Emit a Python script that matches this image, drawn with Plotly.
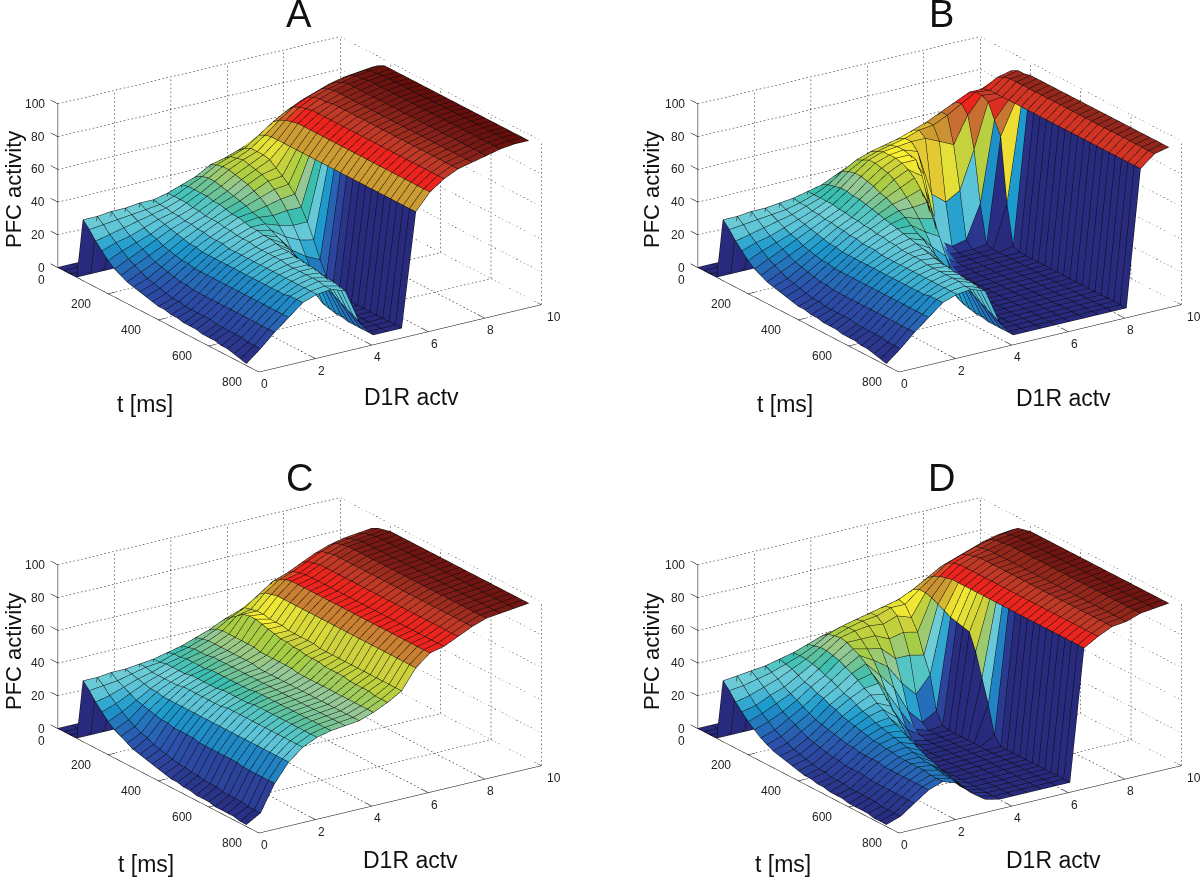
import numpy as np
import plotly.graph_objects as go

D_VALUES = [0, 0.5, 1, 1.5, 2, 2.5, 3, 3.5, 4, 4.5, 5, 5.5, 6, 6.5, 7, 7.5, 8, 8.5, 9, 9.5, 10]
T_VALUES = [0, 25, 50, 75, 100, 125, 150, 175, 200, 225, 250, 275, 300, 325, 350, 375, 400, 425, 450, 475, 500, 525, 550, 575, 600, 625, 650, 675, 700, 725, 750]
T_BEFORE_STIM = [0, 0, 0, 0]
T_TICKS = [0, 200, 400, 600, 800]
D_TICKS = [0, 2, 4, 6, 8, 10]
Z_TICKS = [0, 20, 40, 60, 80, 100]

# activity per D1R row, for t = 100 ... 750 ms
PANEL_A = [
 [37,33,28,24,20,17,15,13,12,11,10,9,8,8,7,7,6,6,6,5,5,5,4,4,3,2,1],
 [37,34,30,27,24,21,19,17,15,14,13,12,11,11,10,10,10,10,10,9,9,9,9,9,8,8,8],
 [38,35,32,29,27,25,23,21,20,19,18,17,17,16,16,16,16,16,16,16,16,16,16,16,16,16,16],
 [38,36,34,32,30,29,27,26,25,24,24,23,23,23,23,23,23,23,23,23,23,23,23,23,23,23,23],
 [39,37,36,35,34,33,32,31,30,30,29,29,29,29,29,29,29,29,29,29,29,29,29,29,30,30,30],
 [39,38,38,37,37,36,36,35,35,34,34,34,33,33,33,33,33,33,33,33,33,33,33,33,33,33,33],
 [41,41,41,41,40,40,39,39,39,38,38,37,37,37,36,36,36,36,36,35,35,35,35,35,35,34,34],
 [44,45,45,45,45,44,44,43,42,42,41,40,40,39,39,38,37,37,36,36,35,35,34,33,33,32,31],
 [47,49,50,50,49,48,47,46,45,43,42,40,38,36,34,32,30,28,26,24,22,20,18,16,14,12,10],
 [52,54,55,55,54,53,52,50,48,45,41,37,32,26,20,14,9,6,3,2,1,1,0,0,0,0,0],
 [54,57,58,59,58,57,56,54,51,47,42,35,28,20,12,6,3,1,0,0,0,0,0,0,0,0,0],
 [57,60,62,62,62,61,58,55,52,48,42,35,26,16,8,3,1,0,0,0,0,0,0,0,0,0,0],
 [60,66,68,69,69,69,69,69,69,69,69,69,69,69,69,69,69,69,69,69,69,69,69,69,69,69,69],
 [65,72,75,77,78,79,79,79,79,79,79,79,79,79,79,79,79,79,79,79,79,79,79,79,79,79,79],
 [70,77,81,83,84,85,85,85,85,85,85,85,85,85,85,85,85,85,85,85,85,85,85,85,85,85,85],
 [74,81,85,87,88,88,89,89,89,89,89,89,89,89,89,89,89,89,89,89,89,89,89,89,89,89,89],
 [77,84,88,90,91,91,91,91,91,91,91,91,91,91,91,91,91,91,91,91,91,91,91,91,91,91,91],
 [80,87,90,92,93,93,93,93,93,93,93,93,93,93,93,93,93,93,93,93,93,93,93,93,93,93,93],
 [83,89,92,94,94,95,95,95,95,95,95,95,95,95,95,95,95,95,95,95,95,95,95,95,95,95,95],
 [85,90,93,95,95,96,96,96,96,96,96,96,96,96,96,96,96,96,96,96,96,96,96,96,96,96,96],
 [86,91,94,96,96,96,96,96,96,96,96,96,96,96,96,96,96,96,96,96,96,96,96,96,96,96,96],
]
PANEL_B = [
 [37,33,28,24,20,17,15,13,12,11,10,9,8,8,7,7,6,6,6,5,5,5,4,4,3,2,1],
 [37,34,30,27,24,21,19,17,15,14,13,12,11,11,10,10,10,10,10,9,9,9,9,9,8,8,8],
 [38,35,32,29,27,25,23,21,20,19,18,17,17,16,16,16,16,16,16,16,16,16,16,16,16,16,16],
 [38,36,34,32,30,29,27,26,25,24,24,23,23,23,23,23,23,23,23,23,23,23,23,23,23,23,23],
 [39,37,36,35,34,33,32,31,30,30,29,29,29,29,29,29,29,29,29,29,29,29,29,29,30,30,30],
 [40,39,39,38,38,37,37,36,36,35,35,34,34,34,33,33,33,33,33,33,33,33,33,33,33,33,33],
 [42,42,42,42,42,41,41,40,40,39,39,38,38,37,37,36,36,36,36,35,35,35,35,35,35,34,34],
 [44,46,47,48,48,47,47,46,45,44,43,42,41,40,39,38,37,36,35,34,34,33,33,32,32,31,31],
 [48,52,54,55,55,54,53,51,50,48,46,44,41,38,36,33,30,28,26,24,22,20,18,16,14,12,10],
 [52,57,59,61,61,60,59,57,54,50,46,41,35,28,21,14,9,5,3,2,1,1,0,0,0,0,0],
 [55,60,62,64,64,64,63,61,58,53,47,39,30,20,11,5,2,1,0,0,0,0,0,0,0,0,0],
 [57,62,64,65,65,64,63,55,40,25,12,4,1,0,0,0,0,0,0,0,0,0,0,0,0,0,0],
 [59,64,66,66,62,50,34,16,6,1,0,0,0,0,0,0,0,0,0,0,0,0,0,0,0,0,0],
 [61,67,69,66,34,8,1,0,0,0,0,0,0,0,0,0,0,0,0,0,0,0,0,0,0,0,0],
 [64,70,70,62,27,2,0,0,0,0,0,0,0,0,0,0,0,0,0,0,0,0,0,0,0,0,0],
 [68,74,74,58,32,4,0,0,0,0,0,0,0,0,0,0,0,0,0,0,0,0,0,0,0,0,0],
 [72,78,79,74,55,24,1,0,0,0,0,0,0,0,0,0,0,0,0,0,0,0,0,0,0,0,0],
 [75,82,84,84,82,73,65,26,2,0,0,0,0,0,0,0,0,0,0,0,0,0,0,0,0,0,0],
 [78,82,83,83,83,83,83,83,83,83,83,83,83,83,83,83,83,83,83,83,83,83,83,83,83,83,83],
 [82,87,89,90,90,90,90,90,90,90,90,90,90,90,90,90,90,90,90,90,90,90,90,90,90,90,90],
 [84,89,91,91,92,92,92,92,92,92,92,92,92,92,92,92,92,92,92,92,92,92,92,92,92,92,92],
]
PANEL_C = [
 [37,33,28,24,20,17,15,13,11,10,9,8,7,6,5,5,4,4,3,3,3,2,2,2,2,1,1],
 [37,34,30,27,24,21,19,17,16,14,13,12,11,10,10,9,9,8,8,8,7,7,7,7,6,6,6],
 [38,35,33,31,29,28,27,26,25,25,24,24,24,24,23,23,23,23,23,23,23,22,22,22,22,22,22],
 [38,37,36,35,34,34,33,33,33,33,33,33,33,33,33,33,33,33,33,33,33,33,33,33,33,33,33],
 [39,39,38,38,38,38,38,39,39,39,39,39,39,39,40,40,40,40,40,40,40,40,40,40,40,40,40],
 [40,40,41,41,41,41,42,42,42,42,42,43,43,43,43,43,44,44,44,44,44,44,44,44,44,44,44],
 [42,43,43,44,44,44,44,45,45,45,45,45,45,45,46,46,46,46,46,46,46,46,46,46,46,46,46],
 [44,45,46,46,46,47,47,47,47,47,47,47,47,47,47,47,47,47,47,47,47,47,47,47,47,47,47],
 [47,48,49,49,49,49,49,49,49,49,48,48,48,48,48,48,48,48,48,48,48,48,48,48,48,48,48],
 [50,52,53,53,53,53,53,53,52,52,52,52,52,52,51,51,51,51,51,51,51,51,51,51,51,51,51],
 [54,57,60,63,64,64,63,62,61,60,60,59,59,58,58,58,57,57,57,57,56,56,56,56,55,55,55],
 [57,61,62,63,63,62,62,62,61,61,61,61,61,60,60,60,60,60,60,60,60,60,60,60,60,60,60],
 [60,67,70,71,72,72,72,72,72,72,72,72,72,72,72,72,72,72,72,72,72,72,72,72,72,72,72],
 [65,73,76,78,79,79,79,79,79,79,79,79,79,79,79,79,79,79,79,79,79,79,79,79,79,79,79],
 [70,76,79,80,81,81,81,81,81,81,81,81,81,81,81,81,81,81,81,81,81,81,81,81,81,81,81],
 [74,80,83,84,85,85,85,85,85,85,85,85,85,85,85,85,85,85,85,85,85,85,85,85,85,85,85],
 [77,84,87,88,89,89,89,89,89,89,89,89,89,89,89,89,89,89,89,89,89,89,89,89,89,89,89],
 [80,87,90,91,92,92,92,92,92,92,92,92,92,92,92,92,92,92,92,92,92,92,92,92,92,92,92],
 [83,89,91,92,93,93,93,93,93,93,93,93,93,93,93,93,93,93,93,93,93,93,93,93,93,93,93],
 [85,90,92,93,94,94,94,94,94,94,94,94,94,94,94,94,94,94,94,94,94,94,94,94,94,94,94],
 [86,91,93,94,95,95,95,95,95,95,95,95,95,95,95,95,95,95,95,95,95,95,95,95,95,95,95],
]
PANEL_D = [
 [37,33,28,24,20,17,14,12,10,9,8,7,6,5,5,4,4,3,3,3,2,2,2,2,1,1,1],
 [38,34,30,26,23,20,17,15,13,11,10,9,8,7,7,6,6,6,5,5,5,5,5,4,4,4,4],
 [39,36,33,30,27,24,22,20,18,16,15,14,13,12,12,11,11,11,11,10,10,10,10,10,10,10,10],
 [40,38,36,33,31,29,27,25,23,22,21,20,19,18,18,17,17,17,17,16,16,16,16,16,16,16,16],
 [42,41,40,38,36,35,33,32,30,29,27,26,25,24,23,22,22,21,21,20,20,20,20,20,19,19,19],
 [44,44,44,43,42,40,39,37,35,34,32,30,29,27,26,25,24,23,22,21,20,19,19,18,17,17,16],
 [47,48,49,49,48,47,45,43,41,38,36,33,31,28,26,24,22,20,18,16,15,13,12,11,10,9,8],
 [50,53,54,55,54,52,50,47,43,39,34,29,24,19,15,11,8,6,5,4,3,3,2,2,2,2,2],
 [52,56,57,57,54,50,45,38,30,21,12,6,2,1,0,0,0,0,0,0,0,0,0,0,0,0,0],
 [54,58,59,58,54,48,39,28,16,7,2,1,0,0,0,0,0,0,0,0,0,0,0,0,0,0,0],
 [55,60,60,57,50,40,27,12,3,1,0,0,0,0,0,0,0,0,0,0,0,0,0,0,0,0,0],
 [57,62,63,60,52,40,18,3,0,0,0,0,0,0,0,0,0,0,0,0,0,0,0,0,0,0,0],
 [60,64,63,57,50,38,28,8,1,0,0,0,0,0,0,0,0,0,0,0,0,0,0,0,0,0,0],
 [62,68,70,70,69,67,65,63,62,61,60,50,36,22,5,0,0,0,0,0,0,0,0,0,0,0,0],
 [66,73,76,78,79,80,80,80,80,80,80,80,80,80,80,80,80,80,80,80,80,80,80,80,80,80,80],
 [70,78,82,84,85,85,85,85,85,85,85,85,85,85,85,85,85,85,85,85,85,85,85,85,85,85,85],
 [74,81,85,87,88,89,89,89,89,89,89,89,89,89,89,89,89,89,89,89,89,89,89,89,89,89,89],
 [77,84,88,89,90,90,90,90,90,90,90,90,90,90,90,90,90,90,90,90,90,90,90,90,90,90,90],
 [80,87,90,92,92,93,93,93,93,93,93,93,93,93,93,93,93,93,93,93,93,93,93,93,93,93,93],
 [83,89,92,93,94,94,94,94,94,94,94,94,94,94,94,94,94,94,94,94,94,94,94,94,94,94,94],
 [85,90,93,94,95,95,95,95,95,95,95,95,95,95,95,95,95,95,95,95,95,95,95,95,95,95,95],
]

# colour map: value -> rgb
CMAP_Z = [0, 6, 12, 20, 26, 32, 38, 42, 45, 48, 52, 56, 60, 64, 68, 74, 78, 81, 84, 88, 92, 96, 100]
CMAP_R = [40, 44, 45, 35, 30, 90, 110, 60, 110, 150, 165, 190, 205, 250, 205, 200, 240, 232, 200, 170, 125, 100, 85]
CMAP_G = [42, 62, 80, 120, 155, 195, 205, 190, 195, 200, 205, 208, 210, 240, 165, 110, 35, 38, 60, 50, 28, 15, 10]
CMAP_B = [125, 150, 170, 190, 205, 215, 215, 175, 150, 150, 70, 62, 60, 50, 50, 50, 30, 30, 40, 35, 22, 12, 10]

PANEL_NAMES = ["A", "B", "C", "D"]
PANELS = [PANEL_A, PANEL_B, PANEL_C, PANEL_D]
SCENE_BOX = [(33, 553, 0, 406), (673, 1193, 0, 406), (33, 553, 461, 867), (673, 1193, 461, 867)]
TITLE_XY = [(299, 14), (941, 14), (299, 478), (941, 478)]
YLAB_XY = [(13, 190), (651, 190), (13, 652), (651, 652)]
TLAB_XY = [(145, 404), (785, 404), (146, 864), (783, 864)]
DLAB_XY = [(411, 397), (1063, 398), (410, 860), (1053, 860)]

W, H = 1200, 878
CAM_R = 1.18
EYE = (-0.525, -0.7745, 0.352)
ASPECT = (1.68, 1.765, 0.862)
T_LOW = -30
D_LOW = -0.2
PX_PER_D, PX_PER_T, PX_PER_Z = 29.4, 0.282, 1.63
DOT_PITCH = 4.0
DOT_LEN = 0.4
# the wire sits a hair towards the camera so the faces do not swallow it; this leaves its picture position alone
NUDGE = 0.04
MESH_LIFT = 0.2


def colour(v):
    return "rgb(%d,%d,%d)" % (np.interp(v, CMAP_Z, CMAP_R), np.interp(v, CMAP_Z, CMAP_G), np.interp(v, CMAP_Z, CMAP_B))


def segs(pairs):
    xs, ys, zs = [], [], []
    for a, b in pairs:
        xs += [a[0], b[0], None]
        ys += [a[1], b[1], None]
        zs += [a[2], b[2], None]
    return xs, ys, zs


def dotted(a, b):
    """Cut one grid line into short pieces: WebGL dashes are far too long at this scale."""
    a, b = np.array(a, float), np.array(b, float)
    length = np.hypot(np.hypot((b[0] - a[0]) * PX_PER_D, (b[1] - a[1]) * PX_PER_T), (b[2] - a[2]) * PX_PER_Z)
    n = max(int(length / DOT_PITCH), 1)
    out = []
    for i in range(n):
        p = a + (b - a) * i / n
        q = a + (b - a) * (i + DOT_LEN) / n
        out.append((tuple(p), tuple(q)))
    return out


fig = go.Figure()
layout = {}
for n, rows in enumerate(PANELS):
    scene = "scene" if n == 0 else "scene%d" % (n + 1)
    Z = [T_BEFORE_STIM + (list(r) + [r[-1]] * 27)[:27] for r in rows]
    nd, nt = len(D_VALUES), len(T_VALUES)
    vx, vy, vz = [], [], []
    for a in range(nd):
        for b in range(nt):
            vx.append(D_VALUES[a]); vy.append(T_VALUES[b]); vz.append(Z[a][b] + MESH_LIFT)
    fi, fj, fk, fc = [], [], [], []
    for a in range(nd - 1):
        for b in range(nt - 1):
            p = a * nt + b
            q = p + 1
            r = p + nt
            s = r + 1
            c = colour(Z[a][b])
            fi += [p, p]; fj += [q, s]; fk += [s, r]; fc += [c, c]
    fig.add_trace(go.Mesh3d(x=vx, y=vy, z=vz, i=fi, j=fj, k=fk, facecolor=fc, flatshading=True,
                            lighting=dict(ambient=1, diffuse=0, specular=0, fresnel=0, roughness=1),
                            hoverinfo="skip", showscale=False, scene=scene))
    d0, d1, t0, t1, z1 = D_TICKS[0], D_TICKS[-1], T_TICKS[0], T_TICKS[-1], Z_TICKS[-1]
    dn = NUDGE * EYE[0] * d1 / ASPECT[0]
    tn = -NUDGE * EYE[1] * t1 / ASPECT[1]
    zn = NUDGE * EYE[2] * z1 / ASPECT[2] + MESH_LIFT
    wx, wy, wz = [], [], []
    for a in range(nd):
        for b in range(nt):
            wx.append(D_VALUES[a] + dn); wy.append(T_VALUES[b] + tn); wz.append(Z[a][b] + zn)
        wx.append(None); wy.append(None); wz.append(None)
    for b in range(nt):
        for a in range(nd):
            wx.append(D_VALUES[a] + dn); wy.append(T_VALUES[b] + tn); wz.append(Z[a][b] + zn)
        wx.append(None); wy.append(None); wz.append(None)
    fig.add_trace(go.Scatter3d(x=wx, y=wy, z=wz, mode="lines", line=dict(color="#0a0a0a", width=1),
                               hoverinfo="skip", showlegend=False, scene=scene))
    dots = []
    for d in D_TICKS:
        dots += dotted((d, t0, 0), (d, t0, z1))
        dots += dotted((d, t0, 0), (d, t1, 0))
    for t in T_TICKS:
        dots += dotted((d1, t, 0), (d1, t, z1))
        dots += dotted((d0, t, 0), (d1, t, 0))
    for z in Z_TICKS:
        dots += dotted((d0, t0, z), (d1, t0, z))
        dots += dotted((d1, t0, z), (d1, t1, z))
    x_, y_, z_ = segs(dots)
    fig.add_trace(go.Scatter3d(x=x_, y=y_, z=z_, mode="lines", line=dict(color="#000000", width=1),
                               hoverinfo="skip", showlegend=False, scene=scene))
    solid = [((d0, t0, 0), (d0, t0, z1)), ((d0, t0, 0), (d0, t1, 0)), ((d0, t1, 0), (d1, t1, 0))]
    for z in Z_TICKS:
        solid.append(((d0, t0, z), (d0, T_LOW, z)))
    for t in T_TICKS:
        solid.append(((d0, t, 0), (0.25, t, 0)))
    for d in D_TICKS:
        solid.append(((d, t1, 0), (d, t1 - 25, 0)))
    x_, y_, z_ = segs(solid)
    fig.add_trace(go.Scatter3d(x=x_, y=y_, z=z_, mode="lines", line=dict(color="#000000", width=1),
                               hoverinfo="skip", showlegend=False, scene=scene))
    ann = []
    tf = dict(family="Liberation Sans", size=12, color="#222222")
    for z in Z_TICKS:
        ann.append(dict(x=d0, y=t0, z=z, text=str(z), showarrow=False, font=tf, xanchor="right", xshift=-11, yshift=0))
    for t in T_TICKS:
        ann.append(dict(x=d0, y=t, z=0, text=str(t), showarrow=False, font=tf,
                        xshift=-16 if t == 0 else -27, yshift=-12 if t == 0 else -10))
    for d in D_TICKS:
        ann.append(dict(x=d, y=t1, z=0, text=str(d), showarrow=False, font=tf,
                        xshift=13 if d == 10 else 6, yshift=-12))
    x0, x1, y0, y1 = SCENE_BOX[n]
    layout[scene] = dict(
        domain=dict(x=[x0 / W, x1 / W], y=[1 - y1 / H, 1 - y0 / H]),
        aspectmode="manual",
        aspectratio=dict(x=ASPECT[0] * (d1 - D_LOW) / d1, y=ASPECT[1] * (t1 - T_LOW) / t1, z=ASPECT[2]),
        camera=dict(eye=dict(x=CAM_R * EYE[0], y=CAM_R * EYE[1], z=CAM_R * EYE[2]),
                    up=dict(x=0, y=0, z=1), center=dict(x=0, y=0, z=0),
                    projection=dict(type="orthographic")),
        xaxis=dict(visible=False, range=[D_LOW, d1]),
        yaxis=dict(visible=False, range=[t1, T_LOW]),
        zaxis=dict(visible=False, range=[0, z1]),
        bgcolor="white",
        annotations=ann,
    )

notes = []
def note(xy, text, size, angle=0):
    notes.append(dict(x=xy[0] / W, y=1 - xy[1] / H, xref="paper", yref="paper", text=text, showarrow=False,
                      xanchor="center", yanchor="middle", textangle=angle,
                      font=dict(family="Liberation Sans", size=size, color="#111111")))
for n, name in enumerate(PANEL_NAMES):
    note(TITLE_XY[n], name, 38)
    note(YLAB_XY[n], "PFC activity", 22, -90)
    note(TLAB_XY[n], "t [ms]", 23)
    note(DLAB_XY[n], "D1R actv", 23)

fig.update_layout(width=W, height=H, margin=dict(l=0, r=0, t=0, b=0), paper_bgcolor="white",
                  showlegend=False, annotations=notes, **layout)
fig.write_html("out.html", config=dict(displayModeBar=False),
               post_script="document.body.style.margin='0';")
